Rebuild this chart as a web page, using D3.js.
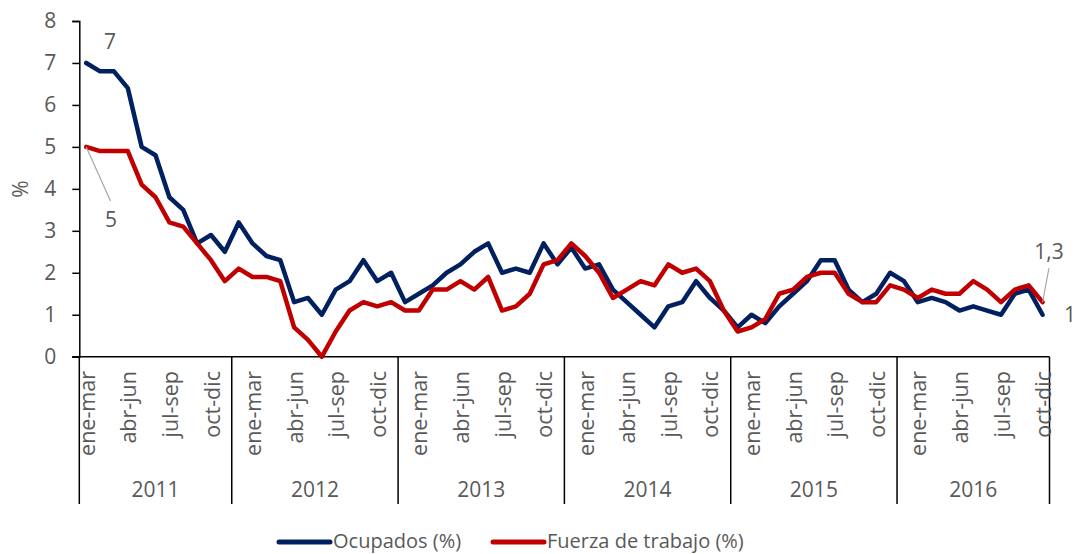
<!DOCTYPE html>
<html>
<head>
<meta charset="utf-8">
<script src="https://cdn.jsdelivr.net/npm/d3@7"></script>
<style>
  html, body { margin: 0; padding: 0; background: #fff; }
  text { font-family: "Open Sans", "Liberation Sans", sans-serif; fill: #595959; }
</style>
</head>
<body>
<div id="chart"></div>
<script>
// Years and how many rolling quarters each one holds
const years = ["2011", "2012", "2013", "2014", "2015", "2016"];
const yearCounts = [11, 12, 12, 12, 12, 11];

// Rolling quarter names
const quarters = ["dic-feb", "ene-mar", "feb-abr", "mar-may", "abr-jun", "may-jul",
  "jun-ago", "jul-sep", "ago-oct", "sep-nov", "oct-dic", "nov-ene"];

// Series values (%)
const ocupados = [
  7.0, 6.8, 6.8, 6.4, 5.0, 4.8, 3.8, 3.5, 2.7, 2.9, 2.5,
  3.2, 2.7, 2.4, 2.3, 1.3, 1.4, 1.0, 1.6, 1.8, 2.3, 1.8, 2.0,
  1.3, 1.5, 1.7, 2.0, 2.2, 2.5, 2.7, 2.0, 2.1, 2.0, 2.7, 2.2,
  2.6, 2.1, 2.2, 1.6, 1.3, 1.0, 0.7, 1.2, 1.3, 1.8, 1.4, 1.1,
  0.7, 1.0, 0.8, 1.2, 1.5, 1.8, 2.3, 2.3, 1.6, 1.3, 1.5, 2.0,
  1.8, 1.3, 1.4, 1.3, 1.1, 1.2, 1.1, 1.0, 1.5, 1.6, 1.0
];
const fuerza = [
  5.0, 4.9, 4.9, 4.9, 4.1, 3.8, 3.2, 3.1, 2.7, 2.3, 1.8,
  2.1, 1.9, 1.9, 1.8, 0.7, 0.4, 0.0, 0.6, 1.1, 1.3, 1.2, 1.3,
  1.1, 1.1, 1.6, 1.6, 1.8, 1.6, 1.9, 1.1, 1.2, 1.5, 2.2, 2.3,
  2.7, 2.4, 2.0, 1.4, 1.6, 1.8, 1.7, 2.2, 2.0, 2.1, 1.8, 1.1,
  0.6, 0.7, 0.9, 1.5, 1.6, 1.9, 2.0, 2.0, 1.5, 1.3, 1.3, 1.7,
  1.6, 1.4, 1.6, 1.5, 1.5, 1.8, 1.6, 1.3, 1.6, 1.7, 1.3
];
const yTicks = [0, 1, 2, 3, 4, 5, 6, 7, 8];

// Build the category list: 2011 starts at ene-mar, 2016 ends at oct-dic
const categories = [];
years.forEach((yr, k) => {
  const start = k === 0 ? 1 : 0;
  for (let j = 0; j < yearCounts[k]; j++) {
    categories.push({ year: yr, label: quarters[start + j] });
  }
});

const width = 1076;
const height = 554;
const plotLeft = 79.3, plotRight = 1049.5, plotTop = 21, plotBottom = 356.7;

const svg = d3.select("#chart").append("svg")
  .attr("width", width)
  .attr("height", height);

const x = d3.scaleBand()
  .domain(d3.range(categories.length))
  .range([plotLeft, plotRight]);

const y = d3.scaleLinear()
  .domain([0, 8])
  .range([plotBottom, plotTop]);

// Y axis
const yAxis = svg.append("g")
  .attr("transform", `translate(${plotLeft},0)`)
  .call(d3.axisLeft(y).tickValues(yTicks).tickSize(7).tickPadding(16));
yAxis.select(".domain").attr("stroke", "#000").attr("stroke-width", 1.5);
yAxis.selectAll(".tick line").attr("stroke", "#000").attr("stroke-width", 1.5);
yAxis.selectAll(".tick text")
  .attr("font-size", 21)
  .attr("fill", "#595959")
  .style("font-family", "'Open Sans', sans-serif");

svg.append("text")
  .attr("transform", "translate(21,189) rotate(-90)")
  .attr("text-anchor", "middle")
  .attr("dy", "0.35em")
  .attr("font-size", 21)
  .text("%");

// X axis line
svg.append("line")
  .attr("x1", plotLeft - 7).attr("x2", plotRight)
  .attr("y1", plotBottom).attr("y2", plotBottom)
  .attr("stroke", "#000").attr("stroke-width", 1.5);

// Year boundaries
const bounds = [0];
yearCounts.forEach((c, k) => bounds.push(bounds[k] + c));
const bx = d => d < categories.length ? x(d) : plotRight;

svg.selectAll("line.year")
  .data(bounds)
  .enter().append("line")
  .attr("class", "year")
  .attr("x1", bx)
  .attr("x2", bx)
  .attr("y1", plotBottom).attr("y2", 504)
  .attr("stroke", "#000").attr("stroke-width", 1.5);

// Quarter labels (every third one)
svg.selectAll("text.quarter")
  .data(categories.map((d, i) => ({ ...d, i })).filter(d => d.i % 3 === 0))
  .enter().append("text")
  .attr("class", "quarter")
  .attr("transform", d => `translate(${x(d.i) + x.bandwidth() / 2 + 1},371) rotate(-90)`)
  .attr("text-anchor", "end")
  .attr("dy", "0.35em")
  .attr("font-size", 21.5)
  .text(d => d.label);

// Year labels
svg.selectAll("text.yearlabel")
  .data(years)
  .enter().append("text")
  .attr("class", "yearlabel")
  .attr("x", (d, k) => (bx(bounds[k]) + bx(bounds[k + 1])) / 2)
  .attr("y", 490)
  .attr("dy", "0.35em")
  .attr("text-anchor", "middle")
  .attr("font-size", 21)
  .text(d => d);

// Lines
const line = d3.line()
  .x((d, i) => x(i) + x.bandwidth() / 2)
  .y(d => y(d));

const series = [
  { name: "Ocupados (%)", values: ocupados, color: "#002060" },
  { name: "Fuerza de trabajo (%)", values: fuerza, color: "#c00000" }
];

svg.selectAll("path.series")
  .data(series)
  .enter().append("path")
  .attr("class", "series")
  .attr("d", d => line(d.values))
  .attr("fill", "none")
  .attr("stroke", d => d.color)
  .attr("stroke-width", 4.5)
  .attr("stroke-linejoin", "round")
  .attr("stroke-linecap", "round");

// Data labels at the ends
const cx = i => x(i) + x.bandwidth() / 2;
const last = categories.length - 1;
const labels = [
  { text: "7", x: 110, y: 42 },
  { text: "5", x: 111, y: 220, lead: [cx(0), y(fuerza[0]), 110.5, 201] },
  { text: "1,3", x: 1049, y: 252, lead: [cx(last), y(fuerza[last]), 1049, 268] },
  { text: "1", x: 1070, y: 315 }
];
labels.filter(d => d.lead).forEach(d => {
  svg.append("line")
    .attr("x1", d.lead[0]).attr("y1", d.lead[1])
    .attr("x2", d.lead[2]).attr("y2", d.lead[3])
    .attr("stroke", "#a6a6a6").attr("stroke-width", 1.2);
});
svg.selectAll("text.dlabel")
  .data(labels)
  .enter().append("text")
  .attr("class", "dlabel")
  .attr("x", d => d.x).attr("y", d => d.y)
  .attr("dy", "0.35em")
  .attr("text-anchor", "middle")
  .attr("font-size", 21)
  .attr("fill", "#404040")
  .text(d => d.text);

// Legend
const legendX = [279, 493];
const legend = svg.selectAll("g.legend")
  .data(series)
  .enter().append("g")
  .attr("class", "legend")
  .attr("transform", (d, i) => `translate(${legendX[i]},542)`);

legend.append("line")
  .attr("x1", 0).attr("x2", 51)
  .attr("stroke", d => d.color)
  .attr("stroke-width", 5)
  .attr("stroke-linecap", "round");

legend.append("text")
  .attr("x", 54)
  .attr("y", 6)
  .attr("font-size", 20)
  .text(d => d.name);
</script>
</body>
</html>
